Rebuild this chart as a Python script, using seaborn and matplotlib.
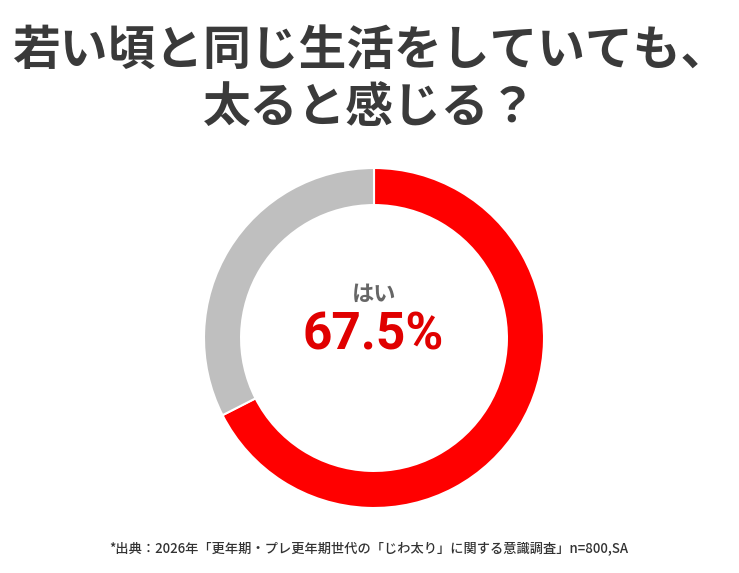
import matplotlib
matplotlib.use("Agg")
import matplotlib.pyplot as plt
import seaborn as sns

# data
categories = ["はい", "いいえ"]
values = [67.5, 32.5]
colors = ["#FF0000", "#BFBFBF"]

title_lines = ["若い頃と同じ生活をしていても、", "太ると感じる？"]
center_label = "はい"
center_value = "67.5%"
source_note = "*出典：2026年「更年期・プレ更年期世代の「じわ太り」に関する意識調査」n=800,SA"

sns.set_theme(style="white")
plt.rcParams['font.family'] = ['Noto Sans CJK JP', 'DejaVu Sans']

W, H = 739, 573
fig = plt.figure(figsize=(W / 100, H / 100), dpi=100)
fig.patch.set_facecolor("white")

# donut axes: center (374, 338) px, radius 170 px
cx, cy, r = 374, 338, 170
ax = fig.add_axes([(cx - r) / W, (H - cy - r) / H, 2 * r / W, 2 * r / H])
ax.pie(values, colors=colors, startangle=90, counterclock=False, radius=1.0,
       wedgeprops=dict(width=0.218, edgecolor="white", linewidth=1.5))
ax.set_xlim(-1, 1)
ax.set_ylim(-1, 1)
ax.set_aspect("equal")
ax.axis("off")

# center texts
fig.text(cx / W, 1 - 294 / H, center_label, ha="center", va="center",
         fontsize=16, color="#666666", fontweight="bold")
fig.text((cx - 1) / W, 1 - 336 / H, center_value, ha="center", va="center",
         fontsize=37, color="#E00000", fontweight="bold",
         family=["Roboto", "DejaVu Sans"])

# title
fig.text(370 / W, 1 - 50 / H, title_lines[0], ha="center", va="center",
         fontsize=34.4, color="#3A3A3A", fontweight="bold")
fig.text(370 / W, 1 - 107 / H, title_lines[1], ha="center", va="center",
         fontsize=34.4, color="#3A3A3A", fontweight="bold")

# source note
fig.text(369 / W, 1 - 548 / H, source_note, ha="center", va="center",
         fontsize=9.5, color="#333333", fontweight="medium")

fig.savefig("out.png", dpi=100, facecolor="white")
